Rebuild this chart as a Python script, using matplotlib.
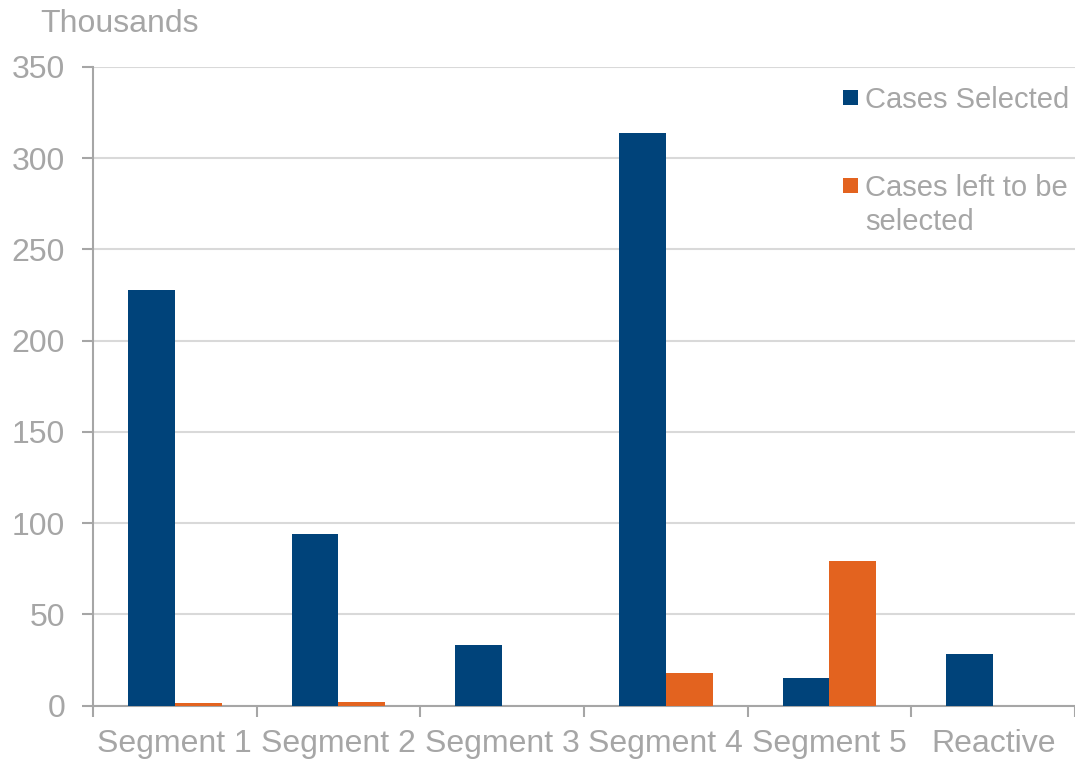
import matplotlib
matplotlib.use("Agg")
import matplotlib.pyplot as plt
from matplotlib.patches import Rectangle
import numpy as np

plt.rcParams['font.family'] = ['Liberation Sans', 'DejaVu Sans']

categories = ["Segment 1", "Segment 2", "Segment 3", "Segment 4", "Segment 5", "Reactive"]
cases_selected = [228, 94, 33, 314, 15, 28]
cases_left = [1.2, 2.1, 0, 18, 79, 0]
series_labels = ["Cases Selected", "Cases left to be\nselected"]
y_ticks = [0, 50, 100, 150, 200, 250, 300, 350]

BLUE = "#00437A"
ORANGE = "#E3631F"
TEXT = "#A6A6A6"
GRID = "#D9D9D9"
SPINE = "#A6A6A6"
FS = 23
LEG_FS = 21

W, H = 1075, 761
fig = plt.figure(figsize=(W / 100, H / 100), dpi=100)
ax = fig.add_axes([0.0865, 0.0729, 0.9135, 0.8391])

x = np.arange(len(categories))
w = 0.286
ax.bar(x - w / 2, cases_selected, width=w, color=BLUE, zorder=3)
ax.bar(x + w / 2, cases_left, width=w, color=ORANGE, zorder=3)

ax.set_xlim(-0.5, len(categories) - 0.5)
ax.set_ylim(0, 350)
ax.set_yticks(y_ticks)
ax.set_yticklabels([str(v) for v in y_ticks])
ax.yaxis.grid(True, color=GRID, linewidth=1.5, zorder=0)
ax.set_axisbelow(True)

# category labels centred, tick marks on the category boundaries
ax.set_xticks(x)
ax.set_xticklabels(categories)
ax.set_xticks(np.arange(len(categories) + 1) - 0.5, minor=True)
ax.tick_params(axis='x', which='major', length=0, pad=17, labelsize=FS, labelcolor=TEXT)
ax.tick_params(axis='x', which='minor', length=8, width=1.5, color=SPINE, direction='out')
ax.tick_params(axis='y', length=8, width=1.5, color=SPINE, pad=12, labelsize=FS, labelcolor=TEXT)

for s in ("top", "right"):
    ax.spines[s].set_visible(False)
for s in ("left", "bottom"):
    ax.spines[s].set_color(SPINE)
    ax.spines[s].set_linewidth(1.5)

fig.text(40 / W, 1 - 24 / H, "Thousands", fontsize=FS, color=TEXT, va="center", ha="left")

# legend: square swatch aligned with the first line of each label
legend_rows = [97, 185]
for color, label, yc in zip([BLUE, ORANGE], series_labels, legend_rows):
    fig.patches.append(Rectangle((843 / W, 1 - (yc + 7.5) / H), 15 / W, 15 / H,
                                 transform=fig.transFigure, facecolor=color,
                                 edgecolor="none", figure=fig))
    fig.text(865 / W, 1 - (yc - 11) / H, label, fontsize=LEG_FS, color=TEXT,
             va="top", ha="left", linespacing=1.26)

fig.savefig("out.png", dpi=100, facecolor="white")
